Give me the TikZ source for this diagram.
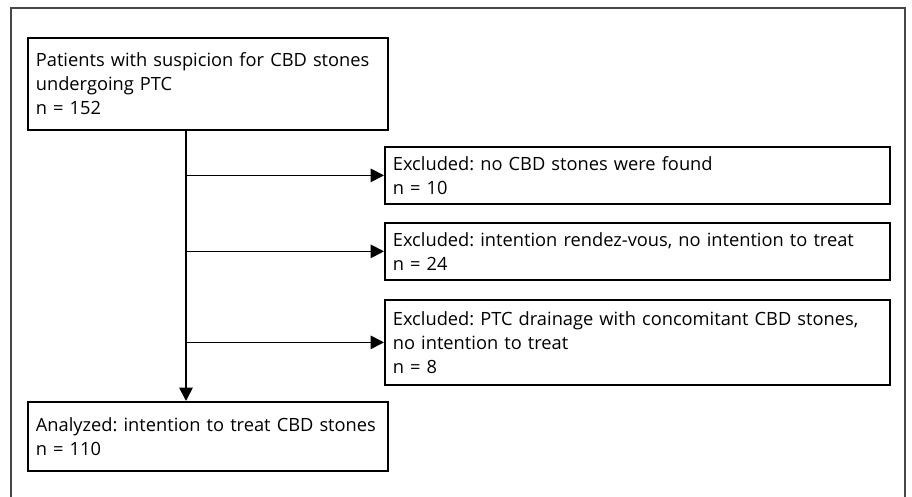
\documentclass[tikz,border=0pt]{standalone}
\usepackage{fontspec}
\setmainfont{Open Sans}
\usetikzlibrary{arrows.meta,positioning,calc}
\frenchspacing

\begin{document}
\begin{tikzpicture}[x=0.75pt,y=-0.75pt,
    flowbox/.style={draw, line width=1.3pt, anchor=north west, align=left,
      inner xsep=6pt, inner ysep=0pt, font=\fontsize{13.7}{18}\selectfont},
    arr/.style={-{Triangle[length=10pt,width=10pt]}, line width=1.3pt}]
    \useasboundingbox (0,0) rectangle (912,496);
    % Outer frame (bottom edge lies below the page)
    \draw[line width=1.6pt, black!72] (11,8) rectangle (905,540);

    % Main column
    \node[flowbox, text width=258pt, minimum height=69pt] (start) at (27,37)
        {Patients with suspicion for CBD stones\\undergoing PTC\\n = 152};
    \node[flowbox, text width=258pt, minimum height=51.75pt] (final) at (27,401)
        {Analyzed: intention to treat CBD stones\\n = 110};

    % Exclusions
    \node[flowbox, text width=366.75pt, minimum height=42.75pt] (exA) at (384,146)
        {Excluded: no CBD stones were found\\n = 10};
    \node[flowbox, text width=366.75pt, minimum height=42.75pt] (exB) at (384,222)
        {Excluded: intention rendez-vous, no intention to treat\\n = 24};
    \node[flowbox, text width=366.75pt, minimum height=63.75pt] (exC) at (384,299)
        {Excluded: PTC drainage with concomitant CBD stones,\\no intention to treat\\n = 8};

    % Trunk and side arrows
    \coordinate (trunk) at (186,0);
    \draw[arr] (trunk |- start.south) -- (trunk |- final.north);
    \draw[arr] (trunk |- exA.west) -- (exA.west);
    \draw[arr] (trunk |- exB.west) -- (exB.west);
    \draw[arr] (trunk |- exC.west) -- (exC.west);
\end{tikzpicture}
\end{document}
